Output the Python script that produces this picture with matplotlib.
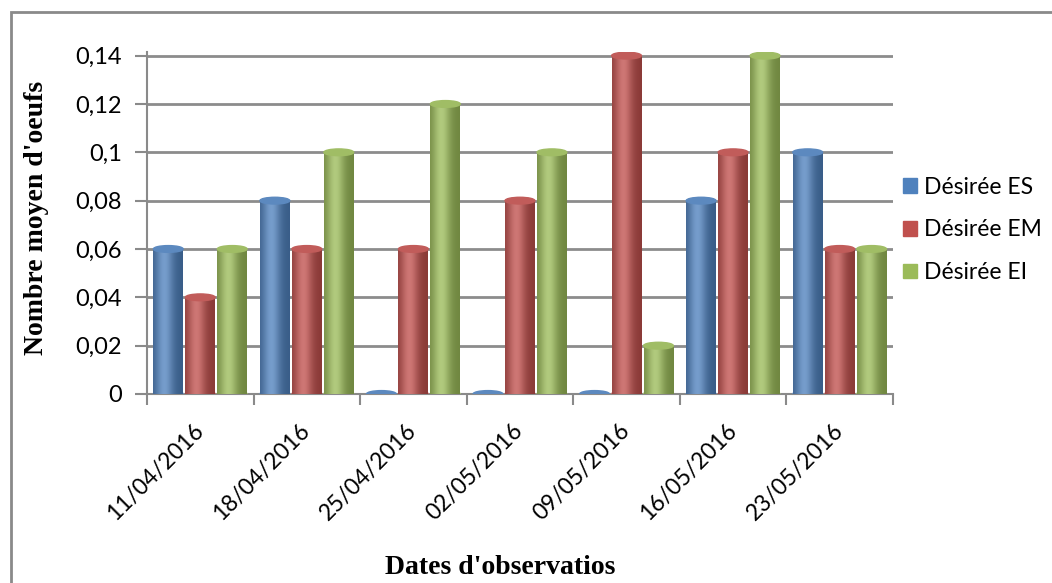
import numpy as np
import matplotlib.pyplot as plt
from matplotlib.patches import Ellipse, Rectangle, Patch
from matplotlib.colors import to_rgb

# données
dates = ['11/04/2016', '18/04/2016', '25/04/2016', '02/05/2016',
         '09/05/2016', '16/05/2016', '23/05/2016']
es = [0.06, 0.08, 0.0, 0.0, 0.0, 0.08, 0.10]
em = [0.04, 0.06, 0.06, 0.08, 0.14, 0.10, 0.06]
ei = [0.06, 0.10, 0.12, 0.10, 0.02, 0.14, 0.06]
series = ['Désirée ES', 'Désirée EM', 'Désirée EI']
yticks = [0, 0.02, 0.04, 0.06, 0.08, 0.10, 0.12, 0.14]
ytick_labels = ['0', '0,02', '0,04', '0,06', '0,08', '0,1', '0,12', '0,14']

colors = ['#4F81BD', '#C0504D', '#9BBB59']
sans = ['Lato', 'DejaVu Sans']
serif = ['Liberation Serif', 'DejaVu Serif']

fig = plt.figure(figsize=(10.52, 5.83), dpi=100)
ax = fig.add_axes([0.1397, 0.3242, 0.7091, 0.5866])

# cadre extérieur
fig.patches.append(Rectangle((11 / 1052, -0.05), 1.1, 1.029,
                             transform=fig.transFigure, fill=False,
                             edgecolor='#8a8a8a', lw=2))


def shade(c):
    base = np.array(to_rgb(c))
    t = np.linspace(0, 1, 60)
    # sombre sur les bords, clair vers le centre gauche
    k = np.exp(-((t - 0.38) / 0.3) ** 2)
    light = base * (0.72 + 0.28 * k)[:, None] + (1 - base) * (0.22 * k)[:, None]
    return np.clip(light, 0, 1)[None, :, :]


x = np.arange(len(dates))
bw = 0.28
offs = [-0.3, 0.0, 0.3]
cap_h = 0.0028
for vals, c, off in zip([es, em, ei], colors, offs):
    grad = shade(c)
    top_col = np.clip(np.array(to_rgb(c)) * 0.9 + 0.08, 0, 1)
    bars = ax.bar(x + off, vals, bw, color='none', zorder=3)
    for b, v in zip(bars, vals):
        x0 = b.get_x()
        xc = x0 + bw / 2
        if v > 0:
            im = ax.imshow(grad, extent=(x0, x0 + bw, 0, v), aspect='auto',
                           zorder=3, interpolation='bilinear')
            im.set_clip_path(b)
            ax.add_patch(Ellipse((xc, 0), bw, cap_h, color=grad[0, 30], zorder=2.9))
        ax.add_patch(Ellipse((xc, v), bw, cap_h, color=top_col, zorder=3.1))

ax.set_xlim(-0.5, len(dates) - 0.5)
ax.set_ylim(0, 0.1415)
ax.set_yticks(yticks)
ax.set_yticklabels(ytick_labels, family=sans, fontsize=17)
ax.set_xticks(x)
ax.set_xticklabels(dates, family=sans, fontsize=16.5, rotation=45,
                   ha='right', va='center', rotation_mode='anchor')
ax.set_xticks(np.arange(-0.5, len(dates)), minor=True)
ax.tick_params(axis='x', which='major', length=0, pad=24)
ax.tick_params(axis='x', which='minor', length=8, width=1.5, color='#8a8a8a')
ax.tick_params(axis='y', length=9, width=1.5, color='#8a8a8a', pad=9)

ax.grid(axis='y', color='#8c8c8c', lw=2)
ax.set_axisbelow(True)
for s in ['top', 'right']:
    ax.spines[s].set_visible(False)
for s in ['left', 'bottom']:
    ax.spines[s].set_color('#8a8a8a')
    ax.spines[s].set_linewidth(1.5)

handles = [Patch(color=c) for c in colors]
fig.legend(handles, series, loc='center left', bbox_to_anchor=(0.8584, 0.6055),
           frameon=False, prop={'family': sans, 'size': 16.5},
           handlelength=0.6, handleheight=0.6, handletextpad=0.3,
           labelspacing=0.95, borderaxespad=0, borderpad=0)

fig.text(0.035, 0.627, "Nombre moyen d'oeufs", rotation=90, ha='center', va='center',
         family=serif, fontweight='bold', fontsize=20)
fig.text(0.4755, 0.026, "Dates d'observatios", ha='center', va='center',
         family=serif, fontweight='bold', fontsize=20)

fig.savefig('out.png', dpi=100)
